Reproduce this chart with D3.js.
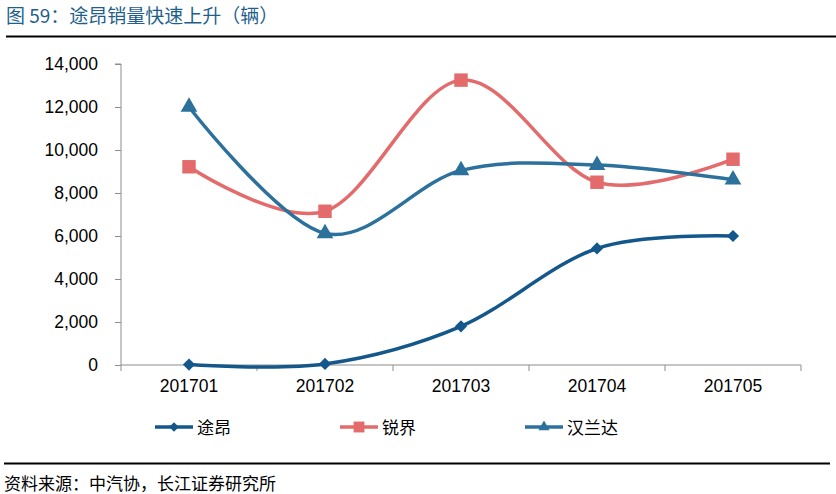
<!DOCTYPE html>
<html><head><meta charset="utf-8">
<script src="https://cdn.jsdelivr.net/npm/d3@7"></script>
<style>
body{margin:0;background:#fff;}
svg{display:block;}
</style>
</head><body>
<svg id="c" width="836" height="494"></svg>
<script>
const categories = ["201701","201702","201703","201704","201705"];
const tuang = [20, 50, 1800, 5420, 6000];
const ruijie = [9220, 7150, 13250, 8500, 9570];
const hanlanda = [12000, 6120, 9050, 9300, 8620];
const yTicks = [0,2000,4000,6000,8000,10000,12000,14000];
const seriesNames = ["途昂","锐界","汉兰达"];
const titleText = "图 59：途昂销量快速上升（辆）";
const sourceText = "资料来源：中汽协，长江证券研究所";

const colors = {"途昂":"#14578a","锐界":"#e36b6c","汉兰达":"#2c709c"};
const symbols = {"途昂":d3.symbolDiamond2,"锐界":d3.symbolSquare2,"汉兰达":d3.symbolTriangle2};
const symSize = {"途昂":95,"锐界":230,"汉兰达":200};
const data = {"途昂":tuang,"锐界":ruijie,"汉兰达":hanlanda};

const svg = d3.select("#c");
const font = "'Liberation Sans', Arial, 'Noto Sans CJK SC', sans-serif";
const cjk = "'Noto Sans CJK SC', sans-serif";

svg.append("text").attr("x",6).attr("y",23).attr("fill","#1f5f8c")
  .attr("font-family",cjk).attr("font-size",19).text(titleText);
svg.append("line").attr("x1",6).attr("x2",836).attr("y1",36.5).attr("y2",36.5)
  .attr("stroke","#000").attr("stroke-width",2);

const x0 = 121, x1 = 801, yTop = 64, yBot = 365;
const x = d3.scaleBand().domain(categories).range([x0,x1]);
const y = d3.scaleLinear().domain([0,14000]).range([yBot,yTop]);

// y axis
const ya = svg.append("g").attr("transform",`translate(${x0},0)`)
  .call(d3.axisLeft(y).tickValues(yTicks).tickSize(6).tickPadding(17).tickFormat(d3.format(",")));
ya.selectAll("text").attr("font-family",font).attr("font-size",17.5).attr("fill","#000");
ya.selectAll("line,path").attr("stroke","#8c8c8c");
ya.select(".domain").attr("d",`M-6,${yTop}H0V${yBot}`);

// x axis
const xa = svg.append("g").attr("transform",`translate(0,${yBot})`)
  .call(d3.axisBottom(x).tickSize(0).tickPadding(15));
xa.selectAll("text").attr("font-family",font).attr("font-size",17.5).attr("fill","#000");
xa.select(".domain").attr("stroke","#8c8c8c").attr("d",`M${x0},0H${x1}`);
const bounds = categories.map((c,i)=>x(c)).concat([x1]);
xa.selectAll(".btick").data(bounds).enter().append("line")
  .attr("x1",d=>d).attr("x2",d=>d).attr("y1",0).attr("y2",6).attr("stroke","#8c8c8c");

const line = d3.line().x((d,i)=>x(categories[i])+x.bandwidth()/2).y(d=>y(d))
  .curve(d3.curveCatmullRom.alpha(0));

const order = ["途昂","锐界","汉兰达"];
order.forEach(name=>{
  svg.append("path").attr("d",line(data[name])).attr("fill","none")
    .attr("stroke",colors[name]).attr("stroke-width",3.5);
});
order.forEach(name=>{
  svg.selectAll(null).data(data[name]).enter().append("path")
    .attr("transform",(d,i)=>`translate(${x(categories[i])+x.bandwidth()/2},${y(d)})`)
    .attr("d",d3.symbol().type(symbols[name]).size(symSize[name]))
    .attr("fill",colors[name]);
});

// legend
const legX = [155,340,525];
seriesNames.forEach((name,i)=>{
  const g = svg.append("g").attr("transform",`translate(${legX[i]},427)`);
  g.append("line").attr("x1",0).attr("x2",38).attr("y1",0).attr("y2",0)
    .attr("stroke",colors[name]).attr("stroke-width",3.5);
  g.append("path").attr("transform","translate(19,0)")
    .attr("d",d3.symbol().type(symbols[name]).size(name==="锐界"?150:(name==="途昂"?60:90)))
    .attr("fill",colors[name]);
  g.append("text").attr("x",42).attr("y",6.5).attr("font-family",cjk).attr("font-size",17)
    .attr("fill","#000").text(name);
});

svg.append("line").attr("x1",4).attr("x2",830).attr("y1",463.5).attr("y2",463.5)
  .attr("stroke","#000").attr("stroke-width",2);
svg.append("text").attr("x",4).attr("y",490).attr("font-family",cjk).attr("font-size",17)
  .attr("fill","#000").text(sourceText);
</script>
</body></html>
